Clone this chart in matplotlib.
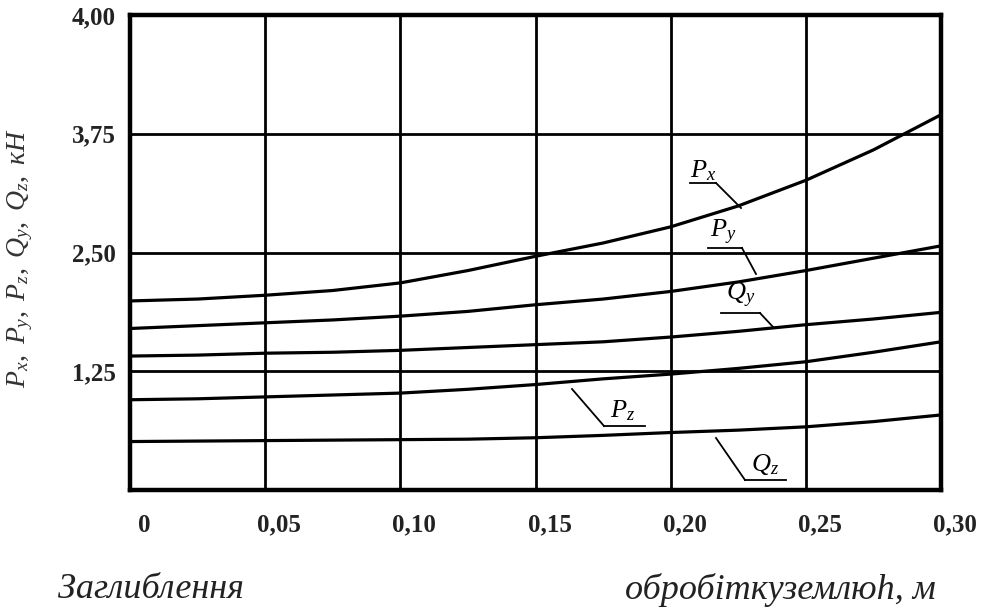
import matplotlib
matplotlib.use("Agg")
import matplotlib.pyplot as plt
import matplotlib.transforms as mtransforms

plt.rcParams['mathtext.fontset'] = 'custom'
plt.rcParams['mathtext.rm'] = 'Liberation Serif'
plt.rcParams['mathtext.it'] = 'Liberation Serif:italic'
plt.rcParams['font.family'] = ['Liberation Serif', 'DejaVu Serif']

# Data: depth h, m and forces, kN
h = [0.000, 0.025, 0.050, 0.075, 0.100, 0.125, 0.150, 0.175, 0.200, 0.225, 0.250, 0.275, 0.300]
P_x = [1.99, 2.01, 2.05, 2.10, 2.18, 2.31, 2.46, 2.60, 2.77, 2.99, 3.26, 3.58, 3.95]
P_y = [1.70, 1.73, 1.76, 1.79, 1.83, 1.88, 1.95, 2.01, 2.09, 2.19, 2.31, 2.44, 2.57]
Q_y = [1.41, 1.42, 1.44, 1.45, 1.47, 1.50, 1.53, 1.56, 1.61, 1.67, 1.74, 1.80, 1.87]
P_z = [0.95, 0.96, 0.98, 1.00, 1.02, 1.06, 1.11, 1.17, 1.22, 1.28, 1.35, 1.45, 1.56]
Q_z = [0.51, 0.515, 0.52, 0.525, 0.53, 0.535, 0.55, 0.575, 0.605, 0.63, 0.665, 0.72, 0.79]

x_ticks = [0.00, 0.05, 0.10, 0.15, 0.20, 0.25, 0.30]
x_ticklabels = ['0', '0,05', '0,10', '0,15', '0,20', '0,25', '0,30']
y_ticks = [1.25, 2.50, 3.75, 5.00]
y_ticklabels = ['1,25', '2,50', '3,75', '4,00']

series = [P_x, P_y, Q_y, P_z, Q_z]

fig = plt.figure(figsize=(9.84, 6.12), dpi=100)
fig.patch.set_facecolor('white')
ax = fig.add_axes([130/984, 1-490/612, (941-130)/984, (490-15)/612])

ax.set_xlim(0, 0.30)
ax.set_ylim(0, 5.0)
ax.set_xticks(x_ticks)
ax.set_xticklabels(x_ticklabels)
ax.set_yticks(y_ticks)
ax.set_yticklabels(y_ticklabels)
ax.grid(True, color='black', linewidth=2.0)
ax.set_axisbelow(True)
for s in ax.spines.values():
    s.set_linewidth(3.2)
ax.tick_params(length=0, labelsize=18)
ax.tick_params(axis='x', pad=17)
ax.tick_params(axis='y', pad=10)
for lab in ax.get_xticklabels() + ax.get_yticklabels():
    lab.set_fontweight('bold')
    lab.set_color('#222222')
off = mtransforms.ScaledTranslation(14/100, 0, fig.dpi_scale_trans)
for lab in ax.get_xticklabels():
    lab.set_transform(lab.get_transform() + off)

for vals in series:
    ax.plot(h, vals, color='black', linewidth=2.3, solid_capstyle='butt', zorder=3)


def px2x(px):
    return (px - 130) / (941 - 130) * 0.30


def py2y(py):
    return (490 - py) / (490 - 15) * 5.0


# curve labels: text pos, underline x0, x1, y, leader start x, leader end (on curve)
labels = [
    (r'$P_x$', 703, 183, 690, 716, 183, 716, 741, 208),
    (r'$P_y$', 723, 247, 708, 742, 248, 742, 756, 274),
    (r'$Q_y$', 741, 310, 721, 760, 313, 760, 774, 328),
    (r'$P_z$', 623, 423, 604, 645, 426, 604, 572, 389),
    (r'$Q_z$', 765, 477, 745, 786, 480, 745, 716, 438),
]
for text, tx, ty, ux0, ux1, uy, lx, ex, ey in labels:
    ax.text(px2x(tx), py2y(ty), text, fontsize=19, ha='center', va='bottom', zorder=5)
    ax.plot([px2x(ux0), px2x(ux1)], [py2y(uy), py2y(uy)], color='black', linewidth=1.3, zorder=4)
    ax.plot([px2x(lx), px2x(ex)], [py2y(uy), py2y(ey)], color='black', linewidth=1.3, zorder=4)

# y-axis label
fig.text(20/984, 1-258/612, r'$P_x,\ P_y,\ P_z,\ Q_y,\ Q_z,\ \mathit{кН}$', rotation=90,
         ha='center', va='center', fontsize=20, color='#333333')

# bottom caption
fig.text(58/984, 1-590/612, 'Заглиблення', fontsize=26, style='italic', ha='left', va='center', color='#222222')
fig.text(936/984, 1-590/612, 'обробіткуземлюh, м', fontsize=26, style='italic', ha='right', va='center', color='#222222')

fig.savefig('out.png', dpi=100, facecolor='white')
